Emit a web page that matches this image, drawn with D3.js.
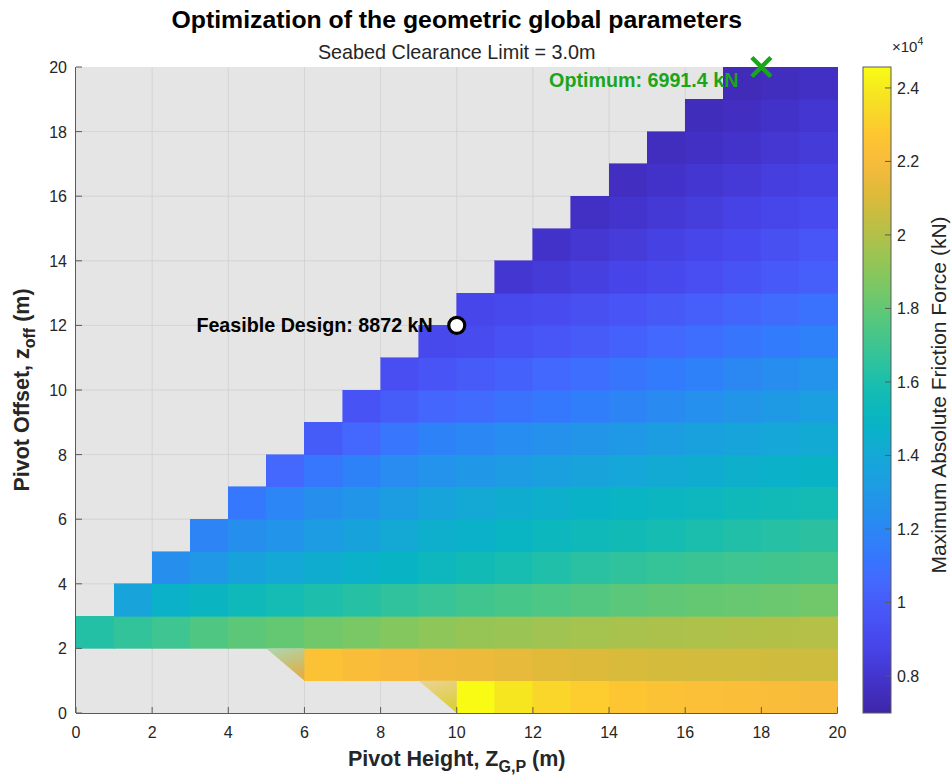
<!DOCTYPE html>
<html>
<head>
<meta charset="utf-8">
<script src="https://cdn.jsdelivr.net/npm/d3@7"></script>
<style>
  body { margin: 0; background: #ffffff; }
  text { font-family: "Liberation Sans", Arial, Helvetica, sans-serif; }
</style>
</head>
<body>
<svg id="chart" width="951" height="778"></svg>
<script>
// ---- Data -------------------------------------------------------------
// Maximum absolute friction force (kN) for each grid cell.
// Row index = pivot offset z_off (lower edge, m), column index = pivot height Z_G,P (lower edge, m).
// null = infeasible combination (not drawn).
const _ = null;
const pivotHeight = d3.range(0, 20);   // cell lower edges along x
const pivotOffset = d3.range(0, 20);   // cell lower edges along y

const frictionKN = [
  /* 0 */ [_,_,_,_,_,_,_,_,_,_, 24570,23850,23300,22950,22650,22450,22300,22200,22100,22000],
  /* 1 */ [_,_,_,_,_,_, 22450,22150,21950,21750,21580,21420,21250,21100,20950,20880,20820,20770,20730,20700],
  /* 2 */ [16250,16650,17000,17500,17850,18050,18330,18600,18850,19100,19300,19400,19550,19650,19750,19830,19900,19980,20030,20080],
  /* 3 */ [_, 13700,14700,15050,15400,15750,16050,16300,16570,16850,17100,17280,17450,17620,17800,17950,18050,18150,18250,18330],
  /* 4 */ [_,_, 12450,12950,13650,14000,14350,14700,14900,15250,15600,15870,16130,16400,16570,16750,16900,17000,17100,17200],
  /* 5 */ [_,_,_, 11900,12450,12750,13200,13650,14050,14500,14700,14950,15200,15400,15600,15800,16000,16150,16300,16450],
  /* 6 */ [_,_,_,_, 11300,11950,12450,12850,13300,13750,14100,14350,14550,14750,14950,15100,15250,15400,15550,15700],
  /* 7 */ [_,_,_,_,_, 10500,11250,11800,12250,12650,12900,13200,13450,13700,13950,14150,14350,14550,14700,14850],
  /* 8 */ [_,_,_,_,_,_, 10000,10500,11200,11800,12000,12300,12550,12800,13050,13300,13550,13750,13950,14150],
  /* 9 */ [_,_,_,_,_,_,_, 9600,10050,10450,10700,11000,11300,11600,11900,12200,12500,12800,13100,13400],
  /*10 */ [_,_,_,_,_,_,_,_, 9300,9650,9950,10250,10550,10850,11150,11450,11750,12050,12350,12650],
  /*11 */ [_,_,_,_,_,_,_,_,_, 9000,9200,9450,9700,9950,10250,10550,10850,11150,11450,11750],
  /*12 */ [_,_,_,_,_,_,_,_,_,_, 8872,9000,9200,9400,9650,9900,10150,10400,10700,11000],
  /*13 */ [_,_,_,_,_,_,_,_,_,_,_, 8050,8300,8550,8800,9050,9300,9550,9850,10150],
  /*14 */ [_,_,_,_,_,_,_,_,_,_,_,_, 7850,8100,8350,8600,8850,9100,9400,9700],
  /*15 */ [_,_,_,_,_,_,_,_,_,_,_,_,_, 7750,7950,8200,8400,8650,8850,9100],
  /*16 */ [_,_,_,_,_,_,_,_,_,_,_,_,_,_, 7650,7850,8050,8250,8450,8600],
  /*17 */ [_,_,_,_,_,_,_,_,_,_,_,_,_,_,_, 7550,7750,7900,8100,8300],
  /*18 */ [_,_,_,_,_,_,_,_,_,_,_,_,_,_,_,_, 7500,7650,7850,8050],
  /*19 */ [_,_,_,_,_,_,_,_,_,_,_,_,_,_,_,_,_, 7400,7550,7750]
];

// Half cells along the lower feasibility edge (drawn as shaded triangles).
const edgeCells = [
  { col: 5, row: 1 },
  { col: 9, row: 0 }
];

// Highlighted designs
const optimum  = { height: 18, offset: 20, force: 6991.4 };
const feasible = { height: 10, offset: 12, force: 8872 };

// Ticks
const xTicks = [0, 2, 4, 6, 8, 10, 12, 14, 16, 18, 20];
const yTicks = [0, 2, 4, 6, 8, 10, 12, 14, 16, 18, 20];
const cbTicks = [8000, 10000, 12000, 14000, 16000, 18000, 20000, 22000, 24000];
const cbTickLabels = ["0.8", "1", "1.2", "1.4", "1.6", "1.8", "2", "2.2", "2.4"];

// ---- Colour map (parula-like) -----------------------------------------
const parulaStops = [
  [0.00, "#3e26a8"], [0.05, "#4332ca"], [0.10, "#4744e8"], [0.15, "#4854f6"],
  [0.20, "#4467fd"], [0.25, "#337afd"], [0.30, "#288cf0"], [0.35, "#1e9be4"],
  [0.40, "#14a8d6"], [0.45, "#08b4c4"], [0.50, "#14bcb2"], [0.55, "#32c39b"],
  [0.60, "#50c782"], [0.65, "#73c869"], [0.70, "#96c555"], [0.75, "#b9bf46"],
  [0.80, "#dcba3a"], [0.85, "#f8ba3c"], [0.90, "#fec830"], [0.95, "#f5e123"],
  [1.00, "#f9fb14"]
];
const parula = d3.scaleLinear()
  .domain(parulaStops.map(d => d[0]))
  .range(parulaStops.map(d => d[1]))
  .interpolate(d3.interpolateRgb)
  .clamp(true);

const allValues = frictionKN.flat().filter(v => v !== null).concat([optimum.force]);
const cMin = d3.min(allValues), cMax = d3.max(allValues);
const norm = d3.scaleLinear().domain([cMin, cMax]).range([0, 1]);
const colorOf = v => parula(norm(v));

// ---- Layout -----------------------------------------------------------
const svg = d3.select("#chart");
const plot = { left: 76, right: 837.5, top: 67, bottom: 713 };
const x = d3.scaleLinear().domain([0, 20]).range([plot.left, plot.right]);
const y = d3.scaleLinear().domain([0, 20]).range([plot.bottom, plot.top]);

const axisColor = "#5a5a5a";
const textColor = "#262626";

// Axes background
svg.append("rect")
  .attr("x", x(0)).attr("y", y(20))
  .attr("width", x(20) - x(0)).attr("height", y(0) - y(20))
  .attr("fill", "#e5e5e5");

// Grid
const grid = svg.append("g").attr("stroke", "#cfcfcf").attr("stroke-width", 0.8);
grid.selectAll("line.v").data(xTicks.slice(1, -1)).join("line")
  .attr("x1", d => x(d)).attr("x2", d => x(d))
  .attr("y1", y(0)).attr("y2", y(20));
grid.selectAll("line.h").data(yTicks.slice(1, -1)).join("line")
  .attr("y1", d => y(d)).attr("y2", d => y(d))
  .attr("x1", x(0)).attr("x2", x(20));

// Cells
const cells = [];
frictionKN.forEach((rowVals, r) => rowVals.forEach((v, c) => {
  if (v !== null) cells.push({ col: pivotHeight[c], row: pivotOffset[r], v });
}));
svg.append("g").attr("shape-rendering", "crispEdges")
  .selectAll("rect").data(cells).join("rect")
  .attr("x", d => x(d.col))
  .attr("y", d => y(d.row + 1))
  .attr("width", d => x(d.col + 1) - x(d.col))
  .attr("height", d => y(d.row) - y(d.row + 1))
  .attr("fill", d => colorOf(d.v))
  .attr("stroke", d => colorOf(d.v))
  .attr("stroke-width", 0.6);

// Triangular edge cells: shaded between the row above and the cell to the right
const defs = svg.append("defs");
edgeCells.forEach((d, k) => {
  const above = frictionKN[d.row + 1][d.col];
  const right = frictionKN[d.row][d.col + 1];
  const bg = "#e5e5e5";
  const g = defs.append("linearGradient").attr("id", "edge" + k)
    .attr("x1", 0).attr("y1", 0).attr("x2", 0.35).attr("y2", 1);
  g.append("stop").attr("offset", "0%").attr("stop-color", d3.interpolateRgb(bg, colorOf(above))(0.45));
  g.append("stop").attr("offset", "100%").attr("stop-color", d3.interpolateRgb("#b89a6a", colorOf(right))(0.55));
  const pts = [[d.col, d.row + 1], [d.col + 1, d.row + 1], [d.col + 1, d.row]];
  svg.append("path")
    .attr("d", "M" + pts.map(p => [x(p[0]), y(p[1])].join(",")).join("L") + "Z")
    .attr("fill", `url(#edge${k})`);
});

// Axis lines and inward ticks
const ax = svg.append("g").attr("stroke", axisColor).attr("stroke-width", 1).attr("fill", "none");
ax.append("line").attr("x1", x(0)).attr("x2", x(20)).attr("y1", y(0) + 0.5).attr("y2", y(0) + 0.5);
ax.append("line").attr("x1", x(0) - 0.5).attr("x2", x(0) - 0.5).attr("y1", y(0)).attr("y2", y(20));
ax.selectAll("line.xt").data(xTicks).join("line")
  .attr("x1", d => x(d)).attr("x2", d => x(d))
  .attr("y1", y(0)).attr("y2", y(0) - 6);
ax.selectAll("line.yt").data(yTicks).join("line")
  .attr("x1", x(0)).attr("x2", x(0) + 6)
  .attr("y1", d => y(d)).attr("y2", d => y(d));

svg.append("g").selectAll("text").data(xTicks).join("text")
  .attr("x", d => x(d)).attr("y", y(0) + 25)
  .attr("text-anchor", "middle").attr("font-size", 16).attr("fill", textColor)
  .text(d => d);
svg.append("g").selectAll("text").data(yTicks).join("text")
  .attr("x", x(0) - 9).attr("y", d => y(d) + 6)
  .attr("text-anchor", "end").attr("font-size", 16).attr("fill", textColor)
  .text(d => d);

// Axis titles
const xl = svg.append("text").attr("x", (x(0) + x(20)) / 2).attr("y", 766)
  .attr("text-anchor", "middle").attr("font-size", 21.5).attr("font-weight", "bold").attr("fill", textColor);
xl.append("tspan").text("Pivot Height, Z");
xl.append("tspan").attr("font-size", 16).attr("dy", 6).text("G,P");
xl.append("tspan").attr("dy", -6).text(" (m)");

const yl = svg.append("text")
  .attr("transform", `translate(29,${(y(0) + y(20)) / 2}) rotate(-90)`)
  .attr("text-anchor", "middle").attr("font-size", 21.5).attr("font-weight", "bold").attr("fill", textColor);
yl.append("tspan").text("Pivot Offset, z");
yl.append("tspan").attr("font-size", 16).attr("dy", 6).text("off");
yl.append("tspan").attr("dy", -6).text(" (m)");

// Title and subtitle
svg.append("text").attr("x", (x(0) + x(20)) / 2).attr("y", 28)
  .attr("text-anchor", "middle").attr("font-size", 24.8).attr("font-weight", "bold").attr("fill", "#000")
  .text("Optimization of the geometric global parameters");
svg.append("text").attr("x", (x(0) + x(20)) / 2).attr("y", 59)
  .attr("text-anchor", "middle").attr("font-size", 19.8).attr("fill", textColor)
  .text("Seabed Clearance Limit = 3.0m");

// Feasible design marker
svg.append("circle")
  .attr("cx", x(feasible.height)).attr("cy", y(feasible.offset)).attr("r", 8)
  .attr("fill", "#ffffff").attr("stroke", "#000").attr("stroke-width", 3.2);
svg.append("text")
  .attr("x", x(feasible.height) - 24).attr("y", y(feasible.offset) + 7)
  .attr("text-anchor", "end").attr("font-size", 19.7).attr("font-weight", "bold").attr("fill", "#000")
  .text(`Feasible Design: ${feasible.force} kN`);

// Optimum marker
const ox = x(optimum.height), oy = y(optimum.offset), os = 9.5;
svg.append("path")
  .attr("d", `M${ox - os},${oy - os}L${ox + os},${oy + os}M${ox - os},${oy + os}L${ox + os},${oy - os}`)
  .attr("stroke", "#1aa51a").attr("stroke-width", 4.5).attr("fill", "none");
svg.append("text")
  .attr("x", ox - 23).attr("y", oy + 20)
  .attr("text-anchor", "end").attr("font-size", 19.7).attr("font-weight", "bold").attr("fill", "#1aa51a")
  .text(`Optimum: ${optimum.force} kN`);

// ---- Colour bar -------------------------------------------------------
const cb = { x: 863, w: 28 };
const cy = d3.scaleLinear().domain([cMin, cMax]).range([plot.bottom, plot.top]);
const grad = defs.append("linearGradient").attr("id", "cbar")
  .attr("x1", 0).attr("y1", 1).attr("x2", 0).attr("y2", 0);
d3.range(0, 1.0001, 0.02).forEach(t => {
  grad.append("stop").attr("offset", (t * 100) + "%").attr("stop-color", parula(t));
});
svg.append("rect").attr("x", cb.x).attr("y", plot.top).attr("width", cb.w)
  .attr("height", plot.bottom - plot.top).attr("fill", "url(#cbar)")
  .attr("stroke", axisColor).attr("stroke-width", 1);
svg.append("g").attr("stroke", axisColor).selectAll("line").data(cbTicks).join("line")
  .attr("x1", cb.x + cb.w - 6).attr("x2", cb.x + cb.w)
  .attr("y1", d => cy(d)).attr("y2", d => cy(d));
svg.append("g").selectAll("text").data(cbTicks).join("text")
  .attr("x", cb.x + cb.w + 6).attr("y", d => cy(d) + 6)
  .attr("font-size", 16).attr("fill", textColor)
  .text((d, i) => cbTickLabels[i]);
const mult = svg.append("text").attr("x", 892).attr("y", 52).attr("font-size", 15).attr("fill", textColor);
mult.append("tspan").text("\u00d710");
mult.append("tspan").attr("font-size", 10.5).attr("dy", -7).text("4");

svg.append("text")
  .attr("transform", `translate(946,${(plot.top + plot.bottom) / 2 + 5}) rotate(-90)`)
  .attr("text-anchor", "middle").attr("font-size", 21).attr("fill", textColor)
  .text("Maximum Absolute Friction Force (kN)");
</script>
</body>
</html>
